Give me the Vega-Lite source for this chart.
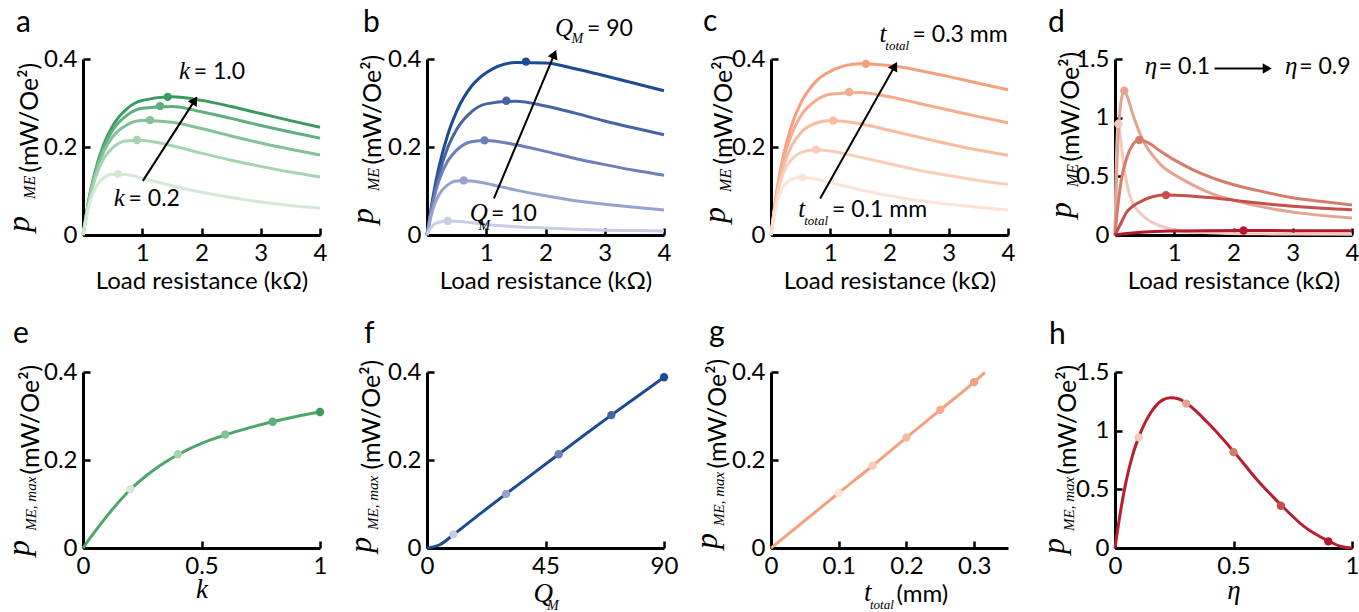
{
  "$schema": "https://vega.github.io/schema/vega-lite/v6.json",
  "background": "white",
  "padding": {"left": 2, "top": 6, "right": 0, "bottom": 0},
  "columns": 4,
  "spacing": {"row": 137, "column": 107},
  "bounds": "flush",
  "resolve": {"scale": {"color": "independent"}},
  "config": {
    "font": "Lato",
    "view": {"stroke": null},
    "axis": {"grid": false, "domainColor": "black", "domainWidth": 3, "tickColor": "black", "tickWidth": 2.5, "tickSize": -7, "labelFont": "Lato", "labelFontSize": 24, "labelColor": "black", "labelPadding": 13, "labelFlush": false, "labelOverlap": false, "labelBound": false, "titleFont": "Lato", "titleFontSize": 25, "titleFontWeight": "normal", "titleColor": "black", "titleBaseline": "alphabetic", "format": ".2~f"},
    "axisY": {"titleAngle": -90, "titleAlign": "left"},
    "axisX": {"titleAngle": 0, "titleFontSize": 24},
    "line": {"strokeWidth": 3, "interpolate": "monotone"},
    "point": {"filled": true, "size": 70, "opacity": 1},
    "rule": {"strokeWidth": 2, "color": "black"},
    "text": {"baseline": "alphabetic", "align": "left", "color": "black"}
  },
  "datasets": {
    "a_lines": [
      {"R":0,"P":0,"k":1},{"R":0.1,"P":0.082,"k":1},{"R":0.2,"P":0.142,"k":1},{"R":0.35,"P":0.206,"k":1},{"R":0.5,"P":0.248,"k":1},{"R":0.75,"P":0.288,"k":1},{"R":1,"P":0.306,"k":1},{"R":1.5,"P":0.314,"k":1},{"R":2,"P":0.306,"k":1},{"R":2.5,"P":0.292,"k":1},{"R":3,"P":0.276,"k":1},{"R":3.5,"P":0.26,"k":1},{"R":4,"P":0.245,"k":1},
      {"R":0,"P":0,"k":0.8},{"R":0.1,"P":0.08,"k":0.8},{"R":0.2,"P":0.139,"k":0.8},{"R":0.35,"P":0.199,"k":0.8},{"R":0.5,"P":0.238,"k":0.8},{"R":0.75,"P":0.273,"k":0.8},{"R":1,"P":0.288,"k":0.8},{"R":1.5,"P":0.292,"k":0.8},{"R":2,"P":0.28,"k":0.8},{"R":2.5,"P":0.265,"k":0.8},{"R":3,"P":0.249,"k":0.8},{"R":3.5,"P":0.234,"k":0.8},{"R":4,"P":0.22,"k":0.8},
      {"R":0,"P":0,"k":0.6},{"R":0.1,"P":0.077,"k":0.6},{"R":0.2,"P":0.133,"k":0.6},{"R":0.35,"P":0.19,"k":0.6},{"R":0.5,"P":0.223,"k":0.6},{"R":0.75,"P":0.251,"k":0.6},{"R":1,"P":0.26,"k":0.6},{"R":1.5,"P":0.256,"k":0.6},{"R":2,"P":0.242,"k":0.6},{"R":2.5,"P":0.225,"k":0.6},{"R":3,"P":0.209,"k":0.6},{"R":3.5,"P":0.195,"k":0.6},{"R":4,"P":0.182,"k":0.6},
      {"R":0,"P":0,"k":0.4},{"R":0.1,"P":0.074,"k":0.4},{"R":0.2,"P":0.126,"k":0.4},{"R":0.35,"P":0.174,"k":0.4},{"R":0.5,"P":0.198,"k":0.4},{"R":0.75,"P":0.214,"k":0.4},{"R":1,"P":0.215,"k":0.4},{"R":1.5,"P":0.203,"k":0.4},{"R":2,"P":0.186,"k":0.4},{"R":2.5,"P":0.17,"k":0.4},{"R":3,"P":0.156,"k":0.4},{"R":3.5,"P":0.143,"k":0.4},{"R":4,"P":0.132,"k":0.4},
      {"R":0,"P":0,"k":0.2},{"R":0.1,"P":0.067,"k":0.2},{"R":0.2,"P":0.104,"k":0.2},{"R":0.35,"P":0.13,"k":0.2},{"R":0.5,"P":0.138,"k":0.2},{"R":0.75,"P":0.137,"k":0.2},{"R":1,"P":0.129,"k":0.2},{"R":1.5,"P":0.112,"k":0.2},{"R":2,"P":0.097,"k":0.2},{"R":2.5,"P":0.085,"k":0.2},{"R":3,"P":0.075,"k":0.2},{"R":3.5,"P":0.067,"k":0.2},{"R":4,"P":0.061,"k":0.2}
    ],
    "a_pts": [{"R":1.43,"P":0.314,"k":1},{"R":1.3,"P":0.293,"k":0.8},{"R":1.13,"P":0.261,"k":0.6},{"R":0.91,"P":0.216,"k":0.4},{"R":0.59,"P":0.139,"k":0.2}],
    "b_lines": [
      {"R":0,"P":0,"Q":90},{"R":0.1,"P":0.086,"Q":90},{"R":0.2,"P":0.153,"Q":90},{"R":0.35,"P":0.228,"Q":90},{"R":0.5,"P":0.281,"Q":90},{"R":0.75,"P":0.338,"Q":90},{"R":1,"P":0.369,"Q":90},{"R":1.5,"P":0.392,"Q":90},{"R":2,"P":0.391,"Q":90},{"R":2.5,"P":0.378,"Q":90},{"R":3,"P":0.362,"Q":90},{"R":3.5,"P":0.345,"Q":90},{"R":4,"P":0.328,"Q":90},
      {"R":0,"P":0,"Q":70},{"R":0.1,"P":0.078,"Q":70},{"R":0.2,"P":0.136,"Q":70},{"R":0.35,"P":0.199,"Q":70},{"R":0.5,"P":0.24,"Q":70},{"R":0.75,"P":0.28,"Q":70},{"R":1,"P":0.298,"Q":70},{"R":1.5,"P":0.304,"Q":70},{"R":2,"P":0.293,"Q":70},{"R":2.5,"P":0.277,"Q":70},{"R":3,"P":0.259,"Q":70},{"R":3.5,"P":0.243,"Q":70},{"R":4,"P":0.228,"Q":70},
      {"R":0,"P":0,"Q":50},{"R":0.1,"P":0.074,"Q":50},{"R":0.2,"P":0.123,"Q":50},{"R":0.35,"P":0.168,"Q":50},{"R":0.5,"P":0.193,"Q":50},{"R":0.75,"P":0.212,"Q":50},{"R":1,"P":0.215,"Q":50},{"R":1.5,"P":0.205,"Q":50},{"R":2,"P":0.19,"Q":50},{"R":2.5,"P":0.174,"Q":50},{"R":3,"P":0.16,"Q":50},{"R":3.5,"P":0.147,"Q":50},{"R":4,"P":0.136,"Q":50},
      {"R":0,"P":0,"Q":30},{"R":0.1,"P":0.059,"Q":30},{"R":0.2,"P":0.091,"Q":30},{"R":0.35,"P":0.114,"Q":30},{"R":0.5,"P":0.123,"Q":30},{"R":0.75,"P":0.123,"Q":30},{"R":1,"P":0.117,"Q":30},{"R":1.5,"P":0.102,"Q":30},{"R":2,"P":0.089,"Q":30},{"R":2.5,"P":0.078,"Q":30},{"R":3,"P":0.07,"Q":30},{"R":3.5,"P":0.063,"Q":30},{"R":4,"P":0.057,"Q":30},
      {"R":0,"P":0,"Q":10},{"R":0.05,"P":0.013,"Q":10},{"R":0.1,"P":0.022,"Q":10},{"R":0.2,"P":0.029,"Q":10},{"R":0.35,"P":0.032,"Q":10},{"R":0.5,"P":0.031,"Q":10},{"R":0.75,"P":0.028,"Q":10},{"R":1,"P":0.024,"Q":10},{"R":1.5,"P":0.019,"Q":10},{"R":2,"P":0.016,"Q":10},{"R":2.5,"P":0.013,"Q":10},{"R":3,"P":0.011,"Q":10},{"R":3.5,"P":0.01,"Q":10},{"R":4,"P":0.009,"Q":10}
    ],
    "b_pts": [{"R":1.67,"P":0.394,"Q":90},{"R":1.34,"P":0.305,"Q":70},{"R":0.97,"P":0.215,"Q":50},{"R":0.62,"P":0.124,"Q":30},{"R":0.35,"P":0.032,"Q":10}],
    "c_lines": [
      {"R":0,"P":0,"t":0.3},{"R":0.1,"P":0.102,"t":0.3},{"R":0.2,"P":0.175,"t":0.3},{"R":0.35,"P":0.25,"t":0.3},{"R":0.5,"P":0.299,"t":0.3},{"R":0.75,"P":0.348,"t":0.3},{"R":1,"P":0.372,"t":0.3},{"R":1.5,"P":0.389,"t":0.3},{"R":2,"P":0.385,"t":0.3},{"R":2.5,"P":0.374,"t":0.3},{"R":3,"P":0.36,"t":0.3},{"R":3.5,"P":0.345,"t":0.3},{"R":4,"P":0.33,"t":0.3},
      {"R":0,"P":0,"t":0.25},{"R":0.1,"P":0.099,"t":0.25},{"R":0.2,"P":0.166,"t":0.25},{"R":0.35,"P":0.23,"t":0.25},{"R":0.5,"P":0.27,"t":0.25},{"R":0.75,"P":0.305,"t":0.25},{"R":1,"P":0.32,"t":0.25},{"R":1.5,"P":0.324,"t":0.25},{"R":2,"P":0.314,"t":0.25},{"R":2.5,"P":0.299,"t":0.25},{"R":3,"P":0.284,"t":0.25},{"R":3.5,"P":0.269,"t":0.25},{"R":4,"P":0.255,"t":0.25},
      {"R":0,"P":0,"t":0.2},{"R":0.1,"P":0.092,"t":0.2},{"R":0.2,"P":0.151,"t":0.2},{"R":0.35,"P":0.203,"t":0.2},{"R":0.5,"P":0.232,"t":0.2},{"R":0.75,"P":0.254,"t":0.2},{"R":1,"P":0.26,"t":0.2},{"R":1.5,"P":0.253,"t":0.2},{"R":2,"P":0.238,"t":0.2},{"R":2.5,"P":0.222,"t":0.2},{"R":3,"P":0.207,"t":0.2},{"R":3.5,"P":0.193,"t":0.2},{"R":4,"P":0.181,"t":0.2},
      {"R":0,"P":0,"t":0.15},{"R":0.1,"P":0.088,"t":0.15},{"R":0.2,"P":0.138,"t":0.15},{"R":0.35,"P":0.172,"t":0.15},{"R":0.5,"P":0.187,"t":0.15},{"R":0.75,"P":0.194,"t":0.15},{"R":1,"P":0.191,"t":0.15},{"R":1.5,"P":0.177,"t":0.15},{"R":2,"P":0.162,"t":0.15},{"R":2.5,"P":0.147,"t":0.15},{"R":3,"P":0.135,"t":0.15},{"R":3.5,"P":0.124,"t":0.15},{"R":4,"P":0.115,"t":0.15},
      {"R":0,"P":0,"t":0.1},{"R":0.1,"P":0.075,"t":0.1},{"R":0.2,"P":0.107,"t":0.1},{"R":0.35,"P":0.127,"t":0.1},{"R":0.5,"P":0.131,"t":0.1},{"R":0.75,"P":0.127,"t":0.1},{"R":1,"P":0.119,"t":0.1},{"R":1.5,"P":0.103,"t":0.1},{"R":2,"P":0.089,"t":0.1},{"R":2.5,"P":0.078,"t":0.1},{"R":3,"P":0.07,"t":0.1},{"R":3.5,"P":0.063,"t":0.1},{"R":4,"P":0.057,"t":0.1}
    ],
    "c_pts": [{"R":1.6,"P":0.389,"t":0.3},{"R":1.32,"P":0.325,"t":0.25},{"R":1.05,"P":0.26,"t":0.2},{"R":0.76,"P":0.194,"t":0.15},{"R":0.53,"P":0.131,"t":0.1}],
    "d_lines": [
      {"R":0,"P":0,"eta":0.1},{"R":0.02,"P":0.55,"eta":0.1},{"R":0.056,"P":0.946,"eta":0.1},{"R":0.1,"P":0.8,"eta":0.1},{"R":0.14,"P":0.62,"eta":0.1},{"R":0.2,"P":0.44,"eta":0.1},{"R":0.25,"P":0.335,"eta":0.1},{"R":0.35,"P":0.23,"eta":0.1},{"R":0.47,"P":0.165,"eta":0.1},{"R":0.6,"P":0.115,"eta":0.1},{"R":0.75,"P":0.08,"eta":0.1},{"R":1,"P":0.045,"eta":0.1},{"R":1.3,"P":0.025,"eta":0.1},{"R":1.8,"P":0.015,"eta":0.1},{"R":2.5,"P":0.01,"eta":0.1},{"R":3,"P":0.008,"eta":0.1},{"R":4,"P":0.006,"eta":0.1},
      {"R":0,"P":0,"eta":0.3},{"R":0.03,"P":0.55,"eta":0.3},{"R":0.07,"P":0.98,"eta":0.3},{"R":0.1,"P":1.13,"eta":0.3},{"R":0.156,"P":1.23,"eta":0.3},{"R":0.22,"P":1.16,"eta":0.3},{"R":0.3,"P":1.03,"eta":0.3},{"R":0.4,"P":0.89,"eta":0.3},{"R":0.5,"P":0.78,"eta":0.3},{"R":0.65,"P":0.67,"eta":0.3},{"R":0.8,"P":0.585,"eta":0.3},{"R":1.03,"P":0.506,"eta":0.3},{"R":1.3,"P":0.43,"eta":0.3},{"R":1.58,"P":0.364,"eta":0.3},{"R":2.14,"P":0.278,"eta":0.3},{"R":2.69,"P":0.22,"eta":0.3},{"R":3.25,"P":0.18,"eta":0.3},{"R":4,"P":0.145,"eta":0.3},
      {"R":0,"P":0,"eta":0.5},{"R":0.05,"P":0.25,"eta":0.5},{"R":0.1,"P":0.45,"eta":0.5},{"R":0.2,"P":0.66,"eta":0.5},{"R":0.3,"P":0.77,"eta":0.5},{"R":0.41,"P":0.81,"eta":0.5},{"R":0.55,"P":0.79,"eta":0.5},{"R":0.75,"P":0.72,"eta":0.5},{"R":1,"P":0.64,"eta":0.5},{"R":1.3,"P":0.56,"eta":0.5},{"R":1.86,"P":0.45,"eta":0.5},{"R":2.42,"P":0.378,"eta":0.5},{"R":2.97,"P":0.32,"eta":0.5},{"R":3.5,"P":0.285,"eta":0.5},{"R":4,"P":0.256,"eta":0.5},
      {"R":0,"P":0,"eta":0.7},{"R":0.1,"P":0.1,"eta":0.7},{"R":0.19,"P":0.19,"eta":0.7},{"R":0.3,"P":0.245,"eta":0.7},{"R":0.47,"P":0.295,"eta":0.7},{"R":0.65,"P":0.328,"eta":0.7},{"R":0.86,"P":0.34,"eta":0.7},{"R":1.2,"P":0.335,"eta":0.7},{"R":1.58,"P":0.32,"eta":0.7},{"R":2,"P":0.297,"eta":0.7},{"R":2.42,"P":0.272,"eta":0.7},{"R":3,"P":0.245,"eta":0.7},{"R":3.5,"P":0.228,"eta":0.7},{"R":4,"P":0.216,"eta":0.7},
      {"R":0,"P":0,"eta":0.9},{"R":0.2,"P":0.012,"eta":0.9},{"R":0.5,"P":0.025,"eta":0.9},{"R":1,"P":0.034,"eta":0.9},{"R":1.5,"P":0.037,"eta":0.9},{"R":2.17,"P":0.038,"eta":0.9},{"R":3,"P":0.037,"eta":0.9},{"R":4,"P":0.036,"eta":0.9}
    ],
    "d_pts": [{"R":0.056,"P":0.946,"eta":0.1},{"R":0.156,"P":1.23,"eta":0.3},{"R":0.41,"P":0.81,"eta":0.5},{"R":0.86,"P":0.34,"eta":0.7},{"R":2.17,"P":0.038,"eta":0.9}],
    "e_line": [{"k":0,"P":0},{"k":0.05,"P":0.037},{"k":0.1,"P":0.072},{"k":0.2,"P":0.133},{"k":0.3,"P":0.178},{"k":0.4,"P":0.212},{"k":0.5,"P":0.238},{"k":0.6,"P":0.257},{"k":0.7,"P":0.273},{"k":0.8,"P":0.287},{"k":0.9,"P":0.299},{"k":1,"P":0.309}],
    "e_pts": [{"k":0.2,"P":0.134},{"k":0.4,"P":0.213},{"k":0.6,"P":0.258},{"k":0.8,"P":0.287},{"k":1,"P":0.309}],
    "f_line": [{"Q":0,"P":0},{"Q":5,"P":0.008},{"Q":10,"P":0.03},{"Q":20,"P":0.077},{"Q":30,"P":0.123},{"Q":40,"P":0.168},{"Q":50,"P":0.213},{"Q":60,"P":0.258},{"Q":70,"P":0.302},{"Q":80,"P":0.345},{"Q":90,"P":0.388}],
    "f_pts": [{"Q":10,"P":0.031},{"Q":30,"P":0.123},{"Q":50,"P":0.213},{"Q":70,"P":0.302},{"Q":90,"P":0.388}],
    "g_line": [{"t":0,"P":0},{"t":0.1,"P":0.125},{"t":0.15,"P":0.187},{"t":0.2,"P":0.251},{"t":0.25,"P":0.314},{"t":0.3,"P":0.377},{"t":0.316,"P":0.399}],
    "g_pts": [{"t":0.1,"P":0.125},{"t":0.15,"P":0.187},{"t":0.2,"P":0.251},{"t":0.25,"P":0.314},{"t":0.3,"P":0.377}],
    "h_line": [{"eta":0,"P":0},{"eta":0.02,"P":0.27},{"eta":0.046,"P":0.56},{"eta":0.074,"P":0.79},{"eta":0.1,"P":0.943},{"eta":0.15,"P":1.15},{"eta":0.2,"P":1.26},{"eta":0.233,"P":1.28},{"eta":0.27,"P":1.27},{"eta":0.303,"P":1.231},{"eta":0.4,"P":1.05},{"eta":0.503,"P":0.817},{"eta":0.6,"P":0.58},{"eta":0.704,"P":0.36},{"eta":0.8,"P":0.18},{"eta":0.903,"P":0.057},{"eta":0.95,"P":0.015},{"eta":1,"P":0}],
    "h_pts": [{"eta":0.1,"P":0.943},{"eta":0.3,"P":1.231},{"eta":0.5,"P":0.817},{"eta":0.7,"P":0.36},{"eta":0.9,"P":0.057}]
  },
  "concat": [
    {
      "width": 237, "height": 176,
      "data": {"name": "a_lines"},
      "layer": [
        {"mark": "line", "encoding": {
          "x": {"field": "R", "type": "quantitative", "scale": {"domain": [0, 4], "nice": false}, "axis": {"values": [1, 2, 3, 4], "title": "Load resistance (kΩ)", "titleY": 53}},
          "y": {"field": "P", "type": "quantitative", "scale": {"domain": [0, 0.4], "nice": false}, "axis": {"values": [0, 0.2, 0.4], "title": "(mW/Oe²)", "titleX": -46, "titleY": 113}},
          "color": {"field": "k", "type": "ordinal", "scale": {"domain": [0.2, 0.4, 0.6, 0.8, 1], "range": ["#d3e9d5", "#a8d3b0", "#84c196", "#5fae7d", "#3b9a5f"]}, "legend": null}}},
        {"data": {"name": "a_pts"}, "mark": "point", "encoding": {
          "x": {"field": "R", "type": "quantitative"}, "y": {"field": "P", "type": "quantitative"},
          "color": {"field": "k", "type": "ordinal", "legend": null}}},
        {"data": {"values": [{"x1": 1.01, "y1": 0.123, "x2": 1.886, "y2": 0.306}]}, "mark": "rule", "encoding": {
          "x": {"field": "x1", "type": "quantitative"}, "y": {"field": "y1", "type": "quantitative"}, "x2": {"field": "x2"}, "y2": {"field": "y2"}}},
        {"data": {"values": [{"x": 1.886, "y": 0.306}]}, "mark": {"type": "point", "shape": "triangle-up", "angle": 32.6, "size": 110, "color": "black", "filled": true}, "encoding": {
          "x": {"field": "x", "type": "quantitative"}, "y": {"field": "y", "type": "quantitative"}}},
        {"data": {"values": [{"x": 1.62, "y": 0.355, "s": "k"}, {"x": 0.52, "y": 0.066, "s": "k"}]}, "mark": {"type": "text", "font": "Liberation Serif", "fontStyle": "italic", "fontSize": 25}, "encoding": {
          "x": {"field": "x", "type": "quantitative"}, "y": {"field": "y", "type": "quantitative"}, "text": {"field": "s"}}},
        {"data": {"values": [{"x": 1.87, "y": 0.355, "s": "= 1.0"}, {"x": 0.77, "y": 0.066, "s": "= 0.2"}]}, "mark": {"type": "text", "font": "Lato", "fontSize": 23}, "encoding": {
          "x": {"field": "x", "type": "quantitative"}, "y": {"field": "y", "type": "quantitative"}, "text": {"field": "s"}}},
        {"data": {"values": [{"x": -1.131, "y": 0.461, "s": "a"}]}, "mark": {"type": "text", "font": "Lato", "fontSize": 30}, "encoding": {
          "x": {"field": "x", "type": "quantitative"}, "y": {"field": "y", "type": "quantitative"}, "text": {"field": "s"}}},
        {"data": {"values": [{"x": -0.911, "y": 0.007, "s": "p"}]}, "mark": {"type": "text", "font": "Liberation Serif", "fontStyle": "italic", "fontSize": 32, "angle": 270}, "encoding": {
          "x": {"field": "x", "type": "quantitative"}, "y": {"field": "y", "type": "quantitative"}, "text": {"field": "s"}}},
        {"data": {"values": [{"x": -0.81, "y": 0.082, "s": "ME"}]}, "mark": {"type": "text", "font": "Liberation Serif", "fontStyle": "italic", "fontSize": 16, "angle": 270}, "encoding": {
          "x": {"field": "x", "type": "quantitative"}, "y": {"field": "y", "type": "quantitative"}, "text": {"field": "s"}}}
      ]
    },
    {
      "width": 237, "height": 176,
      "data": {"name": "b_lines"},
      "layer": [
        {"mark": "line", "encoding": {
          "x": {"field": "R", "type": "quantitative", "scale": {"domain": [0, 4], "nice": false}, "axis": {"values": [1, 2, 3, 4], "title": "Load resistance (kΩ)", "titleY": 53}},
          "y": {"field": "P", "type": "quantitative", "scale": {"domain": [0, 0.4], "nice": false}, "axis": {"values": [0, 0.2, 0.4], "title": "(mW/Oe²)", "titleX": -47, "titleY": 105}},
          "color": {"field": "Q", "type": "ordinal", "scale": {"domain": [10, 30, 50, 70, 90], "range": ["#c8cde7", "#97a2cf", "#6d7fba", "#4862a6", "#1c4b93"]}, "legend": null}}},
        {"data": {"name": "b_pts"}, "mark": "point", "encoding": {
          "x": {"field": "R", "type": "quantitative"}, "y": {"field": "P", "type": "quantitative"},
          "color": {"field": "Q", "type": "ordinal", "legend": null}}},
        {"data": {"values": [{"x1": 1.13, "y1": 0.083, "x2": 2.15, "y2": 0.411}]}, "mark": "rule", "encoding": {
          "x": {"field": "x1", "type": "quantitative"}, "y": {"field": "y1", "type": "quantitative"}, "x2": {"field": "x2"}, "y2": {"field": "y2"}}},
        {"data": {"values": [{"x": 2.15, "y": 0.411}]}, "mark": {"type": "point", "shape": "triangle-up", "angle": 23.1, "size": 110, "color": "black", "filled": true}, "encoding": {
          "x": {"field": "x", "type": "quantitative"}, "y": {"field": "y", "type": "quantitative"}}},
        {"data": {"values": [{"x": 2.16, "y": 0.452, "s": "Q"}, {"x": 0.72, "y": 0.031, "s": "Q"}]}, "mark": {"type": "text", "font": "Liberation Serif", "fontStyle": "italic", "fontSize": 25}, "encoding": {
          "x": {"field": "x", "type": "quantitative"}, "y": {"field": "y", "type": "quantitative"}, "text": {"field": "s"}}},
        {"data": {"values": [{"x": 2.44, "y": 0.436, "s": "M"}, {"x": 0.87, "y": 0.012, "s": "M"}]}, "mark": {"type": "text", "font": "Liberation Serif", "fontStyle": "italic", "fontSize": 14}, "encoding": {
          "x": {"field": "x", "type": "quantitative"}, "y": {"field": "y", "type": "quantitative"}, "text": {"field": "s"}}},
        {"data": {"values": [{"x": 2.7, "y": 0.452, "s": "= 90"}, {"x": 1.08, "y": 0.031, "s": "= 10"}]}, "mark": {"type": "text", "font": "Lato", "fontSize": 23}, "encoding": {
          "x": {"field": "x", "type": "quantitative"}, "y": {"field": "y", "type": "quantitative"}, "text": {"field": "s"}}},
        {"data": {"values": [{"x": -1.08, "y": 0.461, "s": "b"}]}, "mark": {"type": "text", "font": "Lato", "fontSize": 30}, "encoding": {
          "x": {"field": "x", "type": "quantitative"}, "y": {"field": "y", "type": "quantitative"}, "text": {"field": "s"}}},
        {"data": {"values": [{"x": -0.911, "y": 0.025, "s": "p"}]}, "mark": {"type": "text", "font": "Liberation Serif", "fontStyle": "italic", "fontSize": 32, "angle": 270}, "encoding": {
          "x": {"field": "x", "type": "quantitative"}, "y": {"field": "y", "type": "quantitative"}, "text": {"field": "s"}}},
        {"data": {"values": [{"x": -0.81, "y": 0.1, "s": "ME"}]}, "mark": {"type": "text", "font": "Liberation Serif", "fontStyle": "italic", "fontSize": 16, "angle": 270}, "encoding": {
          "x": {"field": "x", "type": "quantitative"}, "y": {"field": "y", "type": "quantitative"}, "text": {"field": "s"}}}
      ]
    },
    {
      "width": 237, "height": 176,
      "data": {"name": "c_lines"},
      "layer": [
        {"mark": "line", "encoding": {
          "x": {"field": "R", "type": "quantitative", "scale": {"domain": [0, 4], "nice": false}, "axis": {"values": [1, 2, 3, 4], "title": "Load resistance (kΩ)", "titleY": 53}},
          "y": {"field": "P", "type": "quantitative", "scale": {"domain": [0, 0.4], "nice": false}, "axis": {"values": [0, 0.2, 0.4], "title": "(mW/Oe²)", "titleX": -40, "titleY": 105}},
          "color": {"field": "t", "type": "ordinal", "scale": {"domain": [0.1, 0.15, 0.2, 0.25, 0.3], "range": ["#fde3d6", "#fbcdb8", "#f8bb9f", "#f6ac8c", "#f4a07d"]}, "legend": null}}},
        {"data": {"name": "c_pts"}, "mark": "point", "encoding": {
          "x": {"field": "R", "type": "quantitative"}, "y": {"field": "P", "type": "quantitative"},
          "color": {"field": "t", "type": "ordinal", "legend": null}}},
        {"data": {"values": [{"x1": 0.83, "y1": 0.083, "x2": 2.09, "y2": 0.384}]}, "mark": "rule", "encoding": {
          "x": {"field": "x1", "type": "quantitative"}, "y": {"field": "y1", "type": "quantitative"}, "x2": {"field": "x2"}, "y2": {"field": "y2"}}},
        {"data": {"values": [{"x": 2.09, "y": 0.384}]}, "mark": {"type": "point", "shape": "triangle-up", "angle": 29.3, "size": 110, "color": "black", "filled": true}, "encoding": {
          "x": {"field": "x", "type": "quantitative"}, "y": {"field": "y", "type": "quantitative"}}},
        {"data": {"values": [{"x": 1.83, "y": 0.439, "s": "t"}, {"x": 0.46, "y": 0.042, "s": "t"}]}, "mark": {"type": "text", "font": "Liberation Serif", "fontStyle": "italic", "fontSize": 25}, "encoding": {
          "x": {"field": "x", "type": "quantitative"}, "y": {"field": "y", "type": "quantitative"}, "text": {"field": "s"}}},
        {"data": {"values": [{"x": 1.93, "y": 0.421, "s": "total"}, {"x": 0.56, "y": 0.022, "s": "total"}]}, "mark": {"type": "text", "font": "Liberation Serif", "fontStyle": "italic", "fontSize": 13}, "encoding": {
          "x": {"field": "x", "type": "quantitative"}, "y": {"field": "y", "type": "quantitative"}, "text": {"field": "s"}}},
        {"data": {"values": [{"x": 2.39, "y": 0.439, "s": "= 0.3 mm"}, {"x": 1.03, "y": 0.042, "s": "= 0.1 mm"}]}, "mark": {"type": "text", "font": "Lato", "fontSize": 23}, "encoding": {
          "x": {"field": "x", "type": "quantitative"}, "y": {"field": "y", "type": "quantitative"}, "text": {"field": "s"}}},
        {"data": {"values": [{"x": -1.148, "y": 0.464, "s": "c"}]}, "mark": {"type": "text", "font": "Lato", "fontSize": 30}, "encoding": {
          "x": {"field": "x", "type": "quantitative"}, "y": {"field": "y", "type": "quantitative"}, "text": {"field": "s"}}},
        {"data": {"values": [{"x": -0.776, "y": 0.027, "s": "p"}]}, "mark": {"type": "text", "font": "Liberation Serif", "fontStyle": "italic", "fontSize": 32, "angle": 270}, "encoding": {
          "x": {"field": "x", "type": "quantitative"}, "y": {"field": "y", "type": "quantitative"}, "text": {"field": "s"}}},
        {"data": {"values": [{"x": -0.675, "y": 0.098, "s": "ME"}]}, "mark": {"type": "text", "font": "Liberation Serif", "fontStyle": "italic", "fontSize": 16, "angle": 270}, "encoding": {
          "x": {"field": "x", "type": "quantitative"}, "y": {"field": "y", "type": "quantitative"}, "text": {"field": "s"}}}
      ]
    },
    {
      "width": 237, "height": 176,
      "data": {"name": "d_lines"},
      "layer": [
        {"mark": "line", "encoding": {
          "x": {"field": "R", "type": "quantitative", "scale": {"domain": [0, 4], "nice": false}, "axis": {"values": [1, 2, 3, 4], "title": "Load resistance (kΩ)", "titleY": 53}},
          "y": {"field": "P", "type": "quantitative", "scale": {"domain": [0, 1.5], "nice": false}, "axis": {"values": [0, 0.5, 1, 1.5], "title": "(mW/Oe²)", "titleX": -37, "titleY": 102}},
          "color": {"field": "eta", "type": "ordinal", "scale": {"domain": [0.1, 0.3, 0.5, 0.7, 0.9], "range": ["#f2c8bf", "#e5a392", "#d57c6b", "#c64f4b", "#b3182c"]}, "legend": null}}},
        {"data": {"name": "d_pts"}, "mark": "point", "encoding": {
          "x": {"field": "R", "type": "quantitative"}, "y": {"field": "P", "type": "quantitative"},
          "color": {"field": "eta", "type": "ordinal", "legend": null}}},
        {"data": {"values": [{"x1": 1.68, "y1": 1.42, "x2": 2.57, "y2": 1.42}]}, "mark": "rule", "encoding": {
          "x": {"field": "x1", "type": "quantitative"}, "y": {"field": "y1", "type": "quantitative"}, "x2": {"field": "x2"}, "y2": {"field": "y2"}}},
        {"data": {"values": [{"x": 2.57, "y": 1.42}]}, "mark": {"type": "point", "shape": "triangle-right", "size": 110, "color": "black", "filled": true}, "encoding": {
          "x": {"field": "x", "type": "quantitative"}, "y": {"field": "y", "type": "quantitative"}}},
        {"data": {"values": [{"x": 0.5, "y": 1.37, "s": "η"}, {"x": 2.87, "y": 1.37, "s": "η"}]}, "mark": {"type": "text", "font": "Liberation Serif", "fontStyle": "italic", "fontSize": 25}, "encoding": {
          "x": {"field": "x", "type": "quantitative"}, "y": {"field": "y", "type": "quantitative"}, "text": {"field": "s"}}},
        {"data": {"values": [{"x": 0.74, "y": 1.37, "s": "= 0.1"}, {"x": 3.11, "y": 1.37, "s": "= 0.9"}]}, "mark": {"type": "text", "font": "Lato", "fontSize": 23}, "encoding": {
          "x": {"field": "x", "type": "quantitative"}, "y": {"field": "y", "type": "quantitative"}, "text": {"field": "s"}}},
        {"data": {"values": [{"x": -1.131, "y": 1.73, "s": "d"}]}, "mark": {"type": "text", "font": "Lato", "fontSize": 30}, "encoding": {
          "x": {"field": "x", "type": "quantitative"}, "y": {"field": "y", "type": "quantitative"}, "text": {"field": "s"}}},
        {"data": {"values": [{"x": -0.743, "y": 0.145, "s": "p"}]}, "mark": {"type": "text", "font": "Liberation Serif", "fontStyle": "italic", "fontSize": 32, "angle": 270}, "encoding": {
          "x": {"field": "x", "type": "quantitative"}, "y": {"field": "y", "type": "quantitative"}, "text": {"field": "s"}}},
        {"data": {"values": [{"x": -0.624, "y": 0.409, "s": "ME"}]}, "mark": {"type": "text", "font": "Liberation Serif", "fontStyle": "italic", "fontSize": 16, "angle": 270}, "encoding": {
          "x": {"field": "x", "type": "quantitative"}, "y": {"field": "y", "type": "quantitative"}, "text": {"field": "s"}}}
      ]
    },
    {
      "width": 237, "height": 176,
      "data": {"name": "e_line"},
      "layer": [
        {"mark": {"type": "line", "color": "#4ea46a"}, "encoding": {
          "x": {"field": "k", "type": "quantitative", "scale": {"domain": [0, 1], "nice": false}, "axis": {"values": [0, 0.5, 1], "title": "k", "titleFont": "Liberation Serif", "titleFontStyle": "italic", "titleFontSize": 27, "titleY": 49}},
          "y": {"field": "P", "type": "quantitative", "scale": {"domain": [0, 0.4], "nice": false}, "axis": {"values": [0, 0.2, 0.4], "title": "(mW/Oe²)", "titleX": -45, "titleY": 102}}}},
        {"data": {"name": "e_pts"}, "mark": "point", "encoding": {
          "x": {"field": "k", "type": "quantitative"}, "y": {"field": "P", "type": "quantitative"},
          "color": {"field": "k", "type": "ordinal", "scale": {"domain": [0.2, 0.4, 0.6, 0.8, 1], "range": ["#d3e9d5", "#a8d3b0", "#84c196", "#5fae7d", "#3b9a5f"]}, "legend": null}}},
        {"data": {"values": [{"x": -0.295, "y": 0.466, "s": "e"}]}, "mark": {"type": "text", "font": "Lato", "fontSize": 30}, "encoding": {
          "x": {"field": "x", "type": "quantitative"}, "y": {"field": "y", "type": "quantitative"}, "text": {"field": "s"}}},
        {"data": {"values": [{"x": -0.228, "y": -0.018, "s": "p"}]}, "mark": {"type": "text", "font": "Liberation Serif", "fontStyle": "italic", "fontSize": 32, "angle": 270}, "encoding": {
          "x": {"field": "x", "type": "quantitative"}, "y": {"field": "y", "type": "quantitative"}, "text": {"field": "s"}}},
        {"data": {"values": [{"x": -0.198, "y": 0.039, "s": "ME, max"}]}, "mark": {"type": "text", "font": "Liberation Serif", "fontStyle": "italic", "fontSize": 15, "angle": 270}, "encoding": {
          "x": {"field": "x", "type": "quantitative"}, "y": {"field": "y", "type": "quantitative"}, "text": {"field": "s"}}}
      ]
    },
    {
      "width": 237, "height": 176,
      "data": {"name": "f_line"},
      "layer": [
        {"mark": {"type": "line", "color": "#1c4b93"}, "encoding": {
          "x": {"field": "Q", "type": "quantitative", "scale": {"domain": [0, 90], "nice": false}, "axis": {"values": [0, 45, 90], "title": "Q", "titleFont": "Liberation Serif", "titleFontStyle": "italic", "titleFontSize": 27, "titleAlign": "left", "titleX": 106, "titleY": 53}},
          "y": {"field": "P", "type": "quantitative", "scale": {"domain": [0, 0.4], "nice": false}, "axis": {"values": [0, 0.2, 0.4], "title": "(mW/Oe²)", "titleX": -48, "titleY": 97}}}},
        {"data": {"name": "f_pts"}, "mark": "point", "encoding": {
          "x": {"field": "Q", "type": "quantitative"}, "y": {"field": "P", "type": "quantitative"},
          "color": {"field": "Q", "type": "ordinal", "scale": {"domain": [10, 30, 50, 70, 90], "range": ["#c8cde7", "#97a2cf", "#6d7fba", "#4862a6", "#1c4b93"]}, "legend": null}}},
        {"data": {"values": [{"x": 45.6, "y": -0.141, "s": "M"}]}, "mark": {"type": "text", "font": "Liberation Serif", "fontStyle": "italic", "fontSize": 14}, "encoding": {
          "x": {"field": "x", "type": "quantitative"}, "y": {"field": "y", "type": "quantitative"}, "text": {"field": "s"}}},
        {"data": {"values": [{"x": -23.9, "y": 0.466, "s": "f"}]}, "mark": {"type": "text", "font": "Lato", "fontSize": 30}, "encoding": {
          "x": {"field": "x", "type": "quantitative"}, "y": {"field": "y", "type": "quantitative"}, "text": {"field": "s"}}},
        {"data": {"values": [{"x": -21.27, "y": -0.011, "s": "p"}]}, "mark": {"type": "text", "font": "Liberation Serif", "fontStyle": "italic", "fontSize": 32, "angle": 270}, "encoding": {
          "x": {"field": "x", "type": "quantitative"}, "y": {"field": "y", "type": "quantitative"}, "text": {"field": "s"}}},
        {"data": {"values": [{"x": -18.6, "y": 0.041, "s": "ME, max"}]}, "mark": {"type": "text", "font": "Liberation Serif", "fontStyle": "italic", "fontSize": 15, "angle": 270}, "encoding": {
          "x": {"field": "x", "type": "quantitative"}, "y": {"field": "y", "type": "quantitative"}, "text": {"field": "s"}}}
      ]
    },
    {
      "width": 237, "height": 176,
      "data": {"name": "g_line"},
      "layer": [
        {"mark": {"type": "line", "color": "#f4a07d"}, "encoding": {
          "x": {"field": "t", "type": "quantitative", "scale": {"domain": [0, 0.35], "nice": false}, "axis": {"values": [0, 0.1, 0.2, 0.3], "title": "(mm)", "titleAlign": "left", "titleX": 125, "titleY": 53}},
          "y": {"field": "P", "type": "quantitative", "scale": {"domain": [0, 0.4], "nice": false}, "axis": {"values": [0, 0.2, 0.4], "title": "(mW/Oe²)", "titleX": -46, "titleY": 96}}}},
        {"data": {"name": "g_pts"}, "mark": "point", "encoding": {
          "x": {"field": "t", "type": "quantitative"}, "y": {"field": "P", "type": "quantitative"},
          "color": {"field": "t", "type": "ordinal", "scale": {"domain": [0.1, 0.15, 0.2, 0.25, 0.3], "range": ["#fde3d6", "#fbcdb8", "#f8bb9f", "#f6ac8c", "#f4a07d"]}, "legend": null}}},
        {"data": {"values": [{"x": 0.1373, "y": -0.1205, "s": "t"}]}, "mark": {"type": "text", "font": "Liberation Serif", "fontStyle": "italic", "fontSize": 27}, "encoding": {
          "x": {"field": "x", "type": "quantitative"}, "y": {"field": "y", "type": "quantitative"}, "text": {"field": "s"}}},
        {"data": {"values": [{"x": 0.1462, "y": -0.1386, "s": "total"}]}, "mark": {"type": "text", "font": "Liberation Serif", "fontStyle": "italic", "fontSize": 13}, "encoding": {
          "x": {"field": "x", "type": "quantitative"}, "y": {"field": "y", "type": "quantitative"}, "text": {"field": "s"}}},
        {"data": {"values": [{"x": -0.0916, "y": 0.468, "s": "g"}]}, "mark": {"type": "text", "font": "Lato", "fontSize": 30}, "encoding": {
          "x": {"field": "x", "type": "quantitative"}, "y": {"field": "y", "type": "quantitative"}, "text": {"field": "s"}}},
        {"data": {"values": [{"x": -0.0797, "y": -0.002, "s": "p"}]}, "mark": {"type": "text", "font": "Liberation Serif", "fontStyle": "italic", "fontSize": 32, "angle": 270}, "encoding": {
          "x": {"field": "x", "type": "quantitative"}, "y": {"field": "y", "type": "quantitative"}, "text": {"field": "s"}}},
        {"data": {"values": [{"x": -0.0694, "y": 0.05, "s": "ME, max"}]}, "mark": {"type": "text", "font": "Liberation Serif", "fontStyle": "italic", "fontSize": 15, "angle": 270}, "encoding": {
          "x": {"field": "x", "type": "quantitative"}, "y": {"field": "y", "type": "quantitative"}, "text": {"field": "s"}}}
      ]
    },
    {
      "width": 237, "height": 176,
      "data": {"name": "h_line"},
      "layer": [
        {"mark": {"type": "line", "color": "#b81d30"}, "encoding": {
          "x": {"field": "eta", "type": "quantitative", "scale": {"domain": [0, 1], "nice": false}, "axis": {"values": [0, 0.5, 1], "title": "η", "titleFont": "Liberation Serif", "titleFontStyle": "italic", "titleFontSize": 27, "titleY": 50}},
          "y": {"field": "P", "type": "quantitative", "scale": {"domain": [0, 1.5], "nice": false}, "axis": {"values": [0, 0.5, 1, 1.5], "title": "(mW/Oe²)", "titleX": -40, "titleY": 102}}}},
        {"data": {"name": "h_pts"}, "mark": "point", "encoding": {
          "x": {"field": "eta", "type": "quantitative"}, "y": {"field": "P", "type": "quantitative"},
          "color": {"field": "eta", "type": "ordinal", "scale": {"domain": [0.1, 0.3, 0.5, 0.7, 0.9], "range": ["#f2c8bf", "#e5a392", "#d57c6b", "#c64f4b", "#b3182c"]}, "legend": null}}},
        {"data": {"values": [{"x": -0.278, "y": 1.739, "s": "h"}]}, "mark": {"type": "text", "font": "Lato", "fontSize": 30}, "encoding": {
          "x": {"field": "x", "type": "quantitative"}, "y": {"field": "y", "type": "quantitative"}, "text": {"field": "s"}}},
        {"data": {"values": [{"x": -0.215, "y": -0.051, "s": "p"}]}, "mark": {"type": "text", "font": "Liberation Serif", "fontStyle": "italic", "fontSize": 32, "angle": 270}, "encoding": {
          "x": {"field": "x", "type": "quantitative"}, "y": {"field": "y", "type": "quantitative"}, "text": {"field": "s"}}},
        {"data": {"values": [{"x": -0.173, "y": 0.145, "s": "ME, max"}]}, "mark": {"type": "text", "font": "Liberation Serif", "fontStyle": "italic", "fontSize": 15, "angle": 270}, "encoding": {
          "x": {"field": "x", "type": "quantitative"}, "y": {"field": "y", "type": "quantitative"}, "text": {"field": "s"}}}
      ]
    }
  ]
}
